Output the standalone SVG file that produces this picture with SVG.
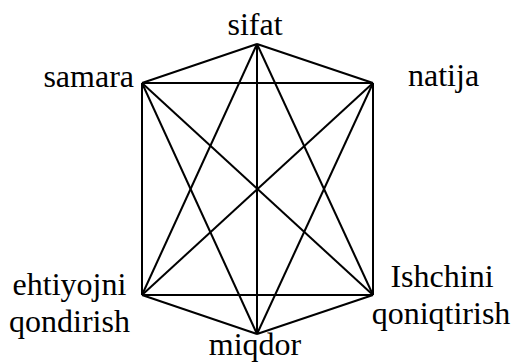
<svg xmlns="http://www.w3.org/2000/svg" width="511" height="363" viewBox="0 0 511 363">
<rect width="511" height="363" fill="#fff"/>
<g id="connectors" stroke="#000" stroke-width="2" fill="none">
<line x1="257" y1="44" x2="142" y2="83"/>
<line x1="257" y1="44" x2="373" y2="83"/>
<line x1="257" y1="44" x2="142" y2="295"/>
<line x1="257" y1="44" x2="373" y2="295"/>
<line x1="257" y1="44" x2="257" y2="334"/>
<line x1="142" y1="83" x2="373" y2="83"/>
<line x1="142" y1="83" x2="142" y2="295"/>
<line x1="142" y1="83" x2="373" y2="295"/>
<line x1="142" y1="83" x2="257" y2="334"/>
<line x1="373" y1="83" x2="373" y2="295"/>
<line x1="373" y1="83" x2="142" y2="295"/>
<line x1="373" y1="83" x2="257" y2="334"/>
<line x1="142" y1="295" x2="373" y2="295"/>
<line x1="142" y1="295" x2="257" y2="334"/>
<line x1="373" y1="295" x2="257" y2="334"/>
</g>
<g id="sifat"><text font-family="Liberation Serif" font-size="32" x="255" y="35" text-anchor="middle">sifat</text></g>
<g id="samara"><text font-family="Liberation Serif" font-size="32" x="134" y="87" text-anchor="end">samara</text></g>
<g id="natija"><text font-family="Liberation Serif" font-size="32" x="408" y="86">natija</text></g>
<g id="ehtiyojni"><text font-family="Liberation Serif" font-size="32" x="69.5" y="295" text-anchor="middle">ehtiyojni</text><text font-family="Liberation Serif" font-size="32" x="69.5" y="331.5" text-anchor="middle">qondirish</text></g>
<g id="ishchini"><text font-family="Liberation Serif" font-size="32" x="442" y="286.5" text-anchor="middle">Ishchini</text><text font-family="Liberation Serif" font-size="32" x="441" y="323.5" text-anchor="middle">qoniqtirish</text></g>
<g id="miqdor"><text font-family="Liberation Serif" font-size="32" x="255" y="355" text-anchor="middle">miqdor</text></g>
</svg>
